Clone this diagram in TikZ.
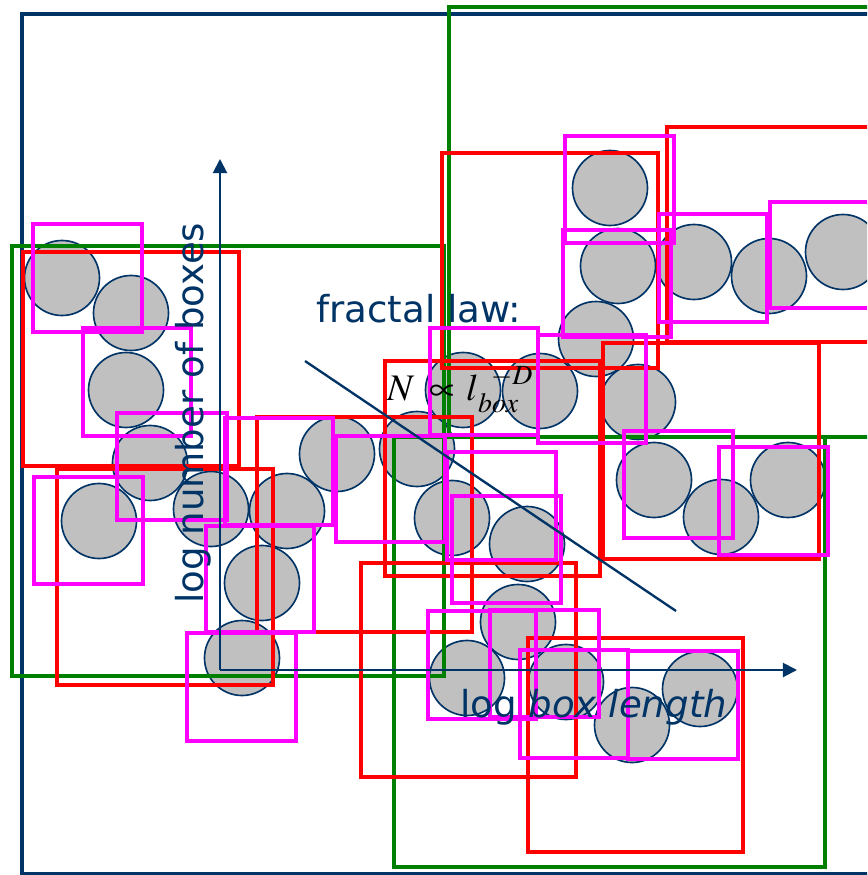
\documentclass[tikz,border=0pt]{standalone}
\usepackage{mathptmx}
\usepackage{fontspec}
\newfontfamily\lblfont{DejaVu Sans}
\usetikzlibrary{arrows.meta}
\definecolor{navy}{RGB}{0,51,102}
\definecolor{grn}{RGB}{0,128,0}
\definecolor{rd}{RGB}{255,0,0}
\definecolor{mag}{RGB}{255,0,255}
\definecolor{ballgray}{RGB}{192,192,192}
\tikzset{
  navybox/.style={draw=navy, line width=2.6pt},
  greenbox/.style={draw=grn, line width=3pt},
  redbox/.style={draw=rd, line width=3.4pt},
  magbox/.style={draw=mag, line width=3.4pt},
  ball/.style={draw=navy, fill=ballgray, line width=1.4pt},
  axisline/.style={draw=navy, line width=1.7pt, -{Triangle[length=12pt,width=12pt]}},
  lawline/.style={draw=navy, line width=2pt},
  lbl/.style={font=\lblfont\fontsize{31.7pt}{38pt}\selectfont, text=navy, inner sep=0pt},
}
\begin{document}
\begin{tikzpicture}[x=0.03cm,y=-0.03cm]
\useasboundingbox (0,0) rectangle (867,875);
\clip (0,0) rectangle (867,875);
\fill[white] (0,0) rectangle (867,875);
% balls
\foreach \cx/\cy in {62/278,131/313,126/390,150/463,99/521,211/509,287/511,262/583,242/658,337/454,417/449,452/518,463/390,540/391,596/339,638/402,654/480,721/517,788/480,527/544,518/622,467/678,566/682,632/725,700/689,610/188,618/266,694/262,769/276,843/252}
  \draw[ball] (\cx,\cy) circle[radius=37.5];
% level 0
\draw[navybox] (22,14) rectangle (882,874);
% level 1
\draw[greenbox] (12,246) rectangle (444,676);
\draw[greenbox] (449,7) rectangle (880,437);
\draw[greenbox] (394,437) rectangle (825,867);
% level 2
\draw[redbox] (23,252) rectangle (239,466);
\draw[redbox] (57,469) rectangle (273,685);
\draw[redbox] (257,417) rectangle (472,632);
\draw[redbox] (385,361) rectangle (600,576);
\draw[redbox] (442,153) rectangle (658,368);
\draw[redbox] (667,127) rectangle (882,342);
\draw[redbox] (603,343) rectangle (819,559);
\draw[redbox] (361,563) rectangle (576,777);
\draw[redbox] (528,638) rectangle (743,852);
% level 3
\foreach \ax/\ay/\bx/\by in {33/224/142/332, 83/328/191/436, 117/413/227/520, 34/477/143/584, 206/526/314/632, 187/633/296/741, 225/418/333/525, 336/436/445/542, 430/328/538/435, 538/335/646/443, 565/136/674/243, 563/230/671/337, 659/214/767/322, 770/202/878/308, 624/431/733/538, 719/447/828/555, 447/452/556/560, 452/496/561/603, 428/611/536/719, 490/610/599/717, 520/650/628/758, 628/651/738/759}
  \draw[magbox] (\ax,\ay) rectangle (\bx,\by);
% axes
\coordinate (O) at (220,670);
\coordinate (ytip) at (220,159);
\coordinate (xtip) at (797,670);
\draw[axisline] (O) -- (ytip);
\draw[axisline] (O) -- (xtip);
\coordinate (d1) at (305,361);
\coordinate (d2) at (676,611);
\draw[lawline] (d1) -- (d2);
% labels
\node[lbl, anchor=base west] (fraclaw) at (316,322) {fractal law:};
\node[lbl, anchor=base west] (xlab) at (460,717) {log \textit{box length}};
\node[lbl, anchor=base west, rotate=90] (ylab) at (203,604) {log number of boxes};
\node[anchor=base west, inner sep=0pt] (law) at (387,400) {\fontsize{32pt}{38pt}\selectfont $N\mkern3mu\propto\mkern1mu l_{\mkern1mu box}^{\mkern8mu -D}$};
\end{tikzpicture}
\end{document}
